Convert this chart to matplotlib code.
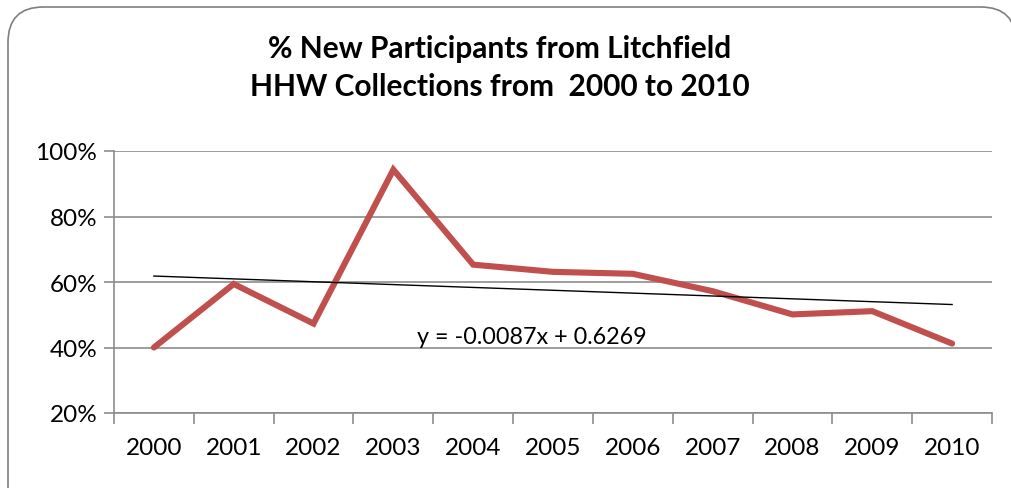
import matplotlib
matplotlib.use("Agg")
import matplotlib.pyplot as plt
from matplotlib.patches import FancyBboxPatch
from matplotlib.ticker import FuncFormatter, FixedLocator
import numpy as np

years = ["2000", "2001", "2002", "2003", "2004", "2005", "2006", "2007", "2008", "2009", "2010"]
pct_new = [0.400, 0.594, 0.473, 0.943, 0.653, 0.631, 0.625, 0.572, 0.501, 0.511, 0.412]
trend_slope = -0.0087
trend_intercept = 0.6269
title_text = "% New Participants from Litchfield\nHHW Collections from  2000 to 2010"
eq_text = "y = -0.0087x + 0.6269"

W, H = 1012, 489
fig = plt.figure(figsize=(W / 100, H / 100), dpi=100)

# outer rounded frame with faint shadow
shadow = FancyBboxPatch((12 / W, -40 / H), (W - 8) / W, (H - 10 + 40) / H,
                        boxstyle="round,pad=0,rounding_size=0.035",
                        transform=fig.transFigure, facecolor="#d9d9d9",
                        edgecolor="none", zorder=0, mutation_aspect=W / H)
fig.patches.append(shadow)
frame = FancyBboxPatch((8 / W, -40 / H), (W - 4) / W, (H - 8 + 40) / H,
                       boxstyle="round,pad=0,rounding_size=0.035",
                       transform=fig.transFigure, facecolor="white",
                       edgecolor="#7f7f7f", linewidth=1.2, zorder=1,
                       mutation_aspect=W / H)
fig.patches.append(frame)

ax = fig.add_axes([114 / W, 1 - 414 / H, (992 - 114) / W, (414 - 152) / H])
ax.set_zorder(2)
ax.patch.set_alpha(0)

x = np.arange(1, len(years) + 1)
ax.plot(x, pct_new, color="#C0504D", linewidth=4.4, solid_joinstyle="miter",
        solid_capstyle="round", zorder=3)
tx = np.array([x[0], x[-1]])
ax.plot(tx, trend_slope * tx + trend_intercept, color="black", linewidth=1.0, zorder=4)

ax.set_xlim(0.5, len(years) + 0.5)
ax.set_ylim(0.2, 1.0)
ax.set_yticks([0.2, 0.4, 0.6, 0.8, 1.0])
ax.yaxis.set_major_formatter(FuncFormatter(lambda v, p: f"{v*100:.0f}%"))
ax.grid(axis="y", color="#8c8c8c", linewidth=1.2)
ax.set_axisbelow(True)

ax.xaxis.set_major_locator(FixedLocator(np.arange(0.5, len(years) + 1.0, 1.0)))
ax.xaxis.set_major_formatter(FuncFormatter(lambda v, p: ""))
ax.xaxis.set_minor_locator(FixedLocator(x))
ax.set_xticklabels(years, minor=True)
ax.tick_params(axis="x", which="major", direction="out", length=8, color="#8c8c8c", width=1.2)
ax.tick_params(axis="x", which="minor", length=0, pad=17, labelsize=17.5)
ax.tick_params(axis="y", direction="out", length=7, color="#8c8c8c", width=1.2, labelsize=17.5, pad=5)
for lab in ax.get_xticklabels(minor=True) + ax.get_yticklabels():
    lab.set_fontfamily("Lato")

for s in ["top", "right"]:
    ax.spines[s].set_visible(False)
for s in ["left", "bottom"]:
    ax.spines[s].set_color("#8c8c8c")
    ax.spines[s].set_linewidth(1.2)

ax.text(5.74, 0.403, eq_text, ha="center", va="bottom", fontsize=16.8,
        fontfamily="Lato", zorder=5)

fig.text(500 / W, 1 - 68 / H, title_text, ha="center", va="center",
         fontsize=21.5, fontweight="bold", fontfamily="Lato", linespacing=1.4, zorder=5)

fig.savefig("out.png", dpi=100)
